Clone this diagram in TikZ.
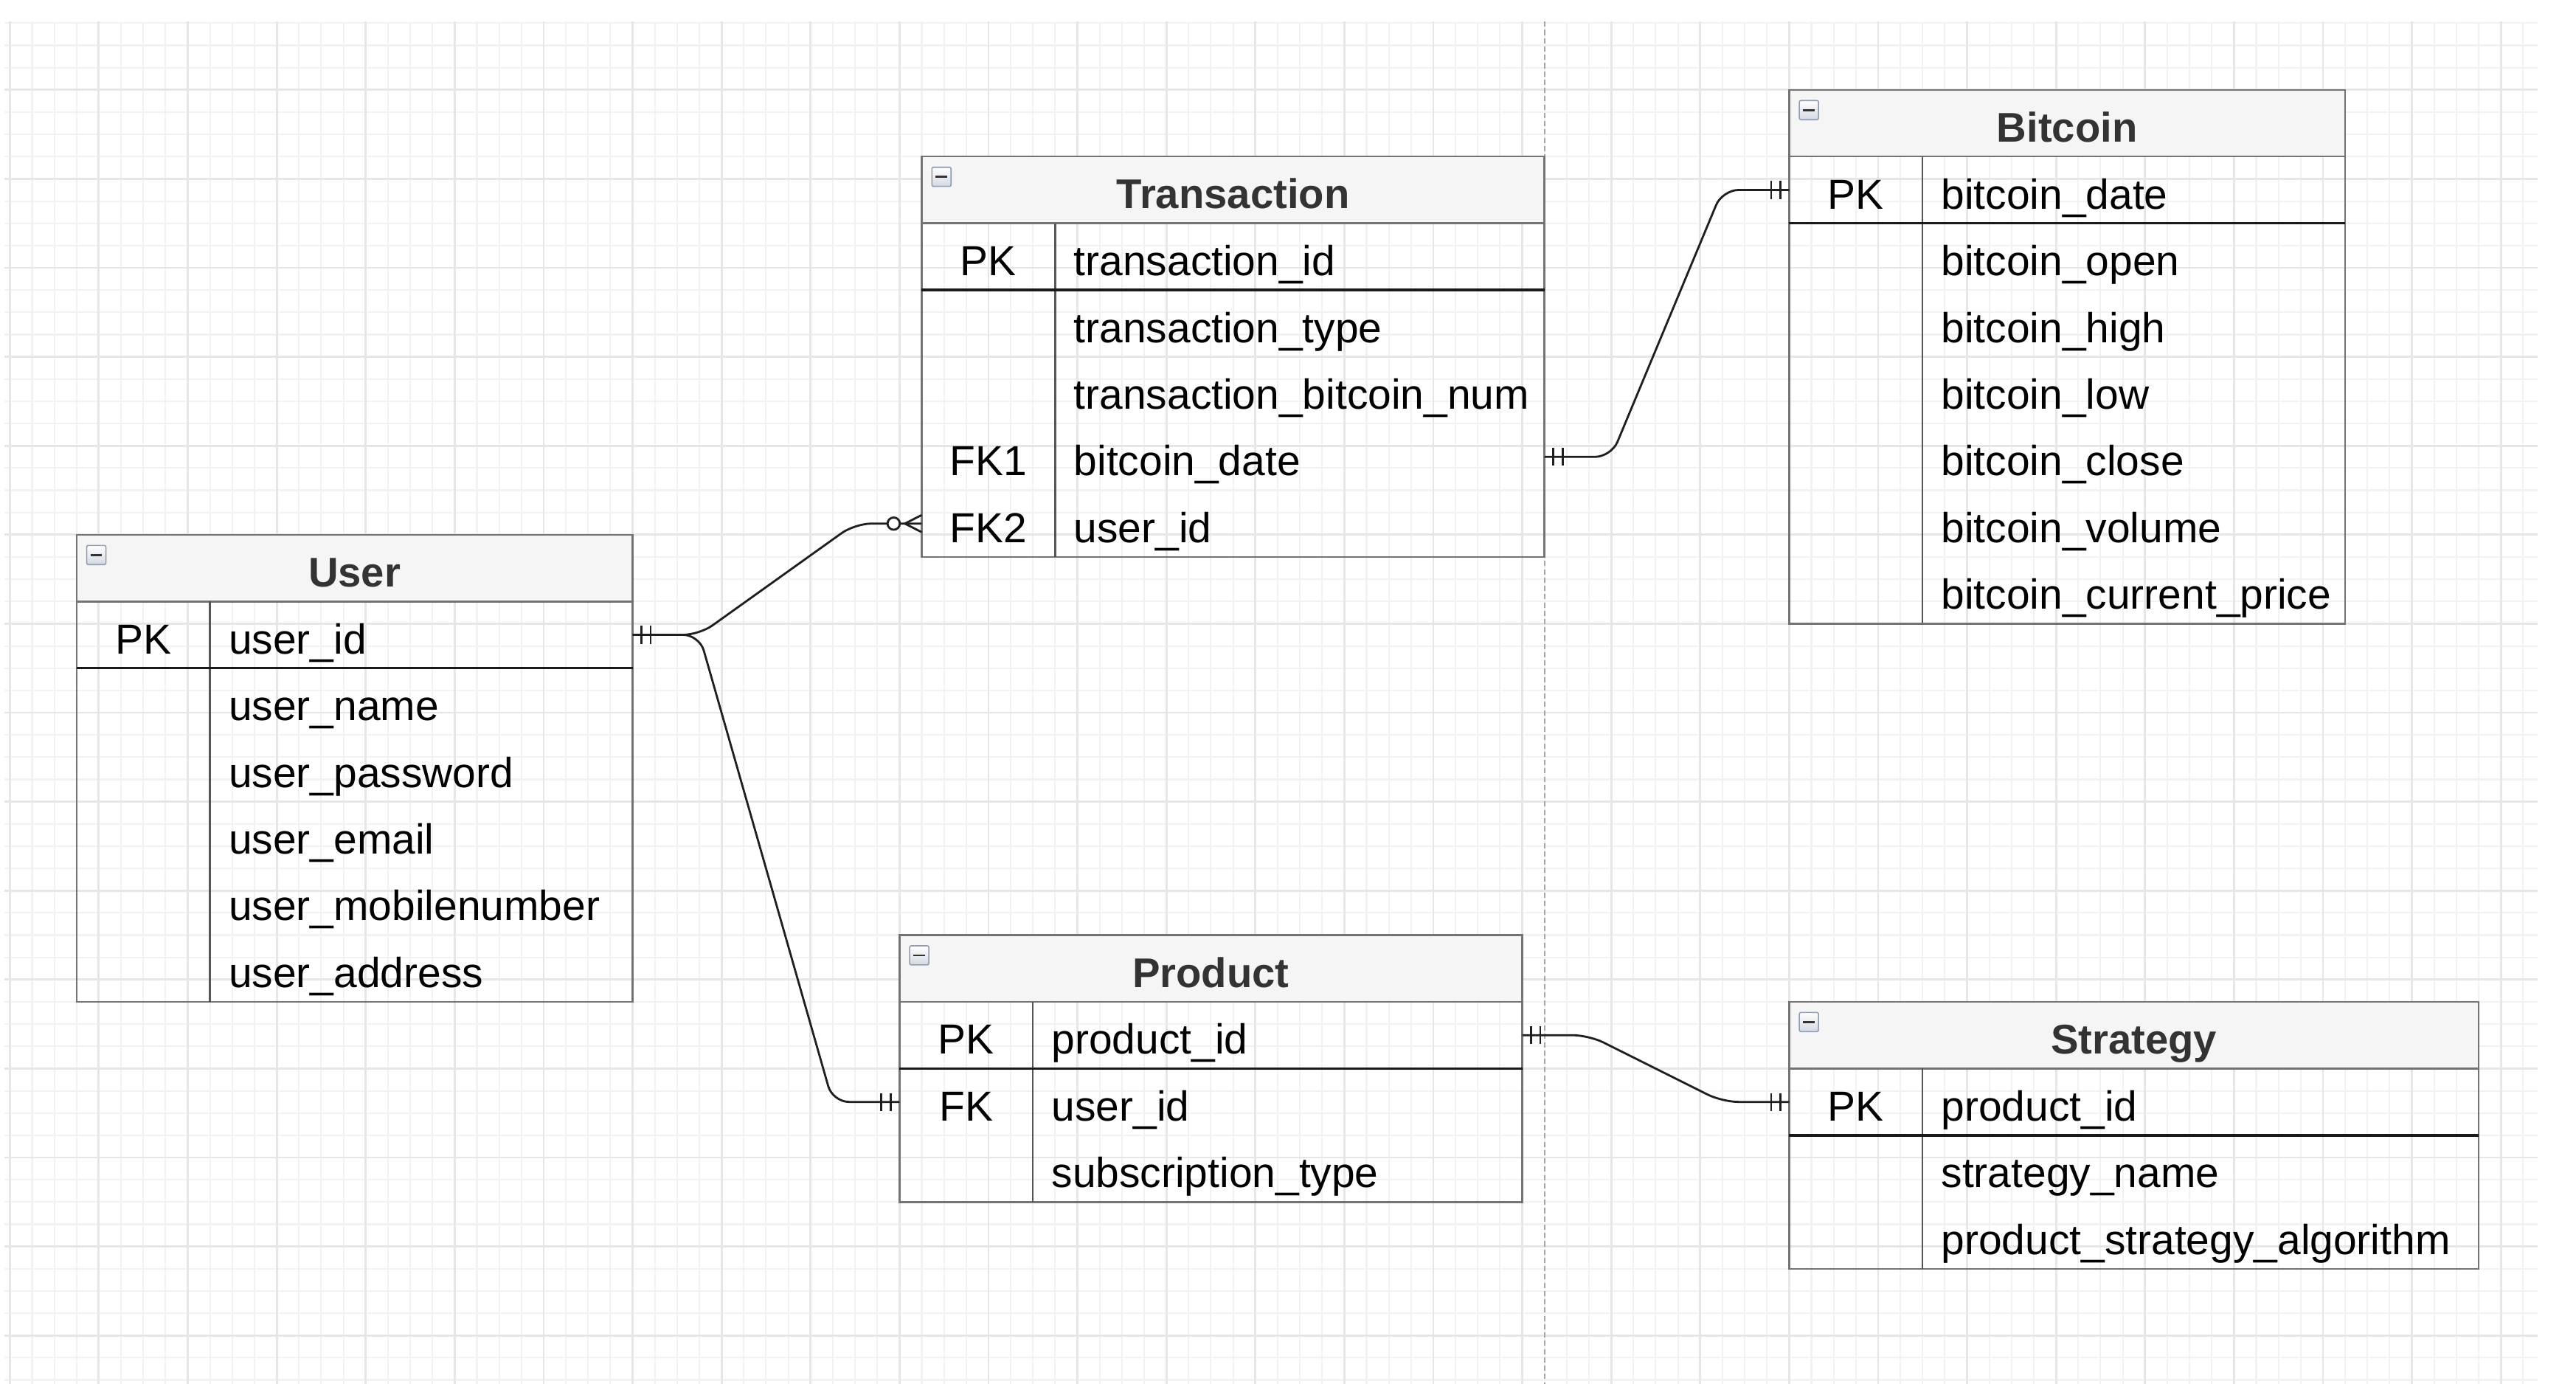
\documentclass[tikz,border=0pt]{standalone}
\usepackage{fontspec}
\setmainfont{Liberation Sans}
\usetikzlibrary{calc}
\definecolor{gridminor}{HTML}{F2F2F2}
\definecolor{gridmajor}{HTML}{E6E6E6}
\definecolor{headfill}{HTML}{F5F5F5}
\definecolor{bordergrey}{HTML}{737373}
\definecolor{divgrey}{HTML}{555555}
\definecolor{titlegrey}{HTML}{333333}
\definecolor{pagebreak}{HTML}{A6A6A6}
\definecolor{iconborder}{HTML}{8F9CB3}
\definecolor{iconfill}{HTML}{D3D9E3}
\definecolor{connline}{HTML}{1F1F1F}

\newcommand{\erfieldfont}{\fontsize{16.2pt}{19pt}\selectfont}
\newcommand{\ertitlefont}{\fontsize{16pt}{19pt}\selectfont\bfseries}

\tikzset{
  gminor/.style={draw=gridminor, line width=0.6pt},
  gmajor/.style={draw=gridmajor, line width=0.8pt},
  pagesplit/.style={draw=pagebreak, line width=0.6pt, dash pattern=on 2pt off 1.2pt},
  erhead/.style={fill=headfill},
  erborder/.style={draw=bordergrey, line width=0.7pt},
  erdiv/.style={draw=divgrey, line width=0.7pt},
  erpk/.style={draw=black!90, line width=1.0pt},
  ertitle/.style={anchor=base, inner sep=0pt, text=titlegrey, font=\ertitlefont},
  erkey/.style={anchor=base, inner sep=0pt, text=black, font=\erfieldfont},
  erfield/.style={anchor=base west, inner sep=0pt, text=black, font=\erfieldfont},
  errow/.style={rectangle, draw=none, inner sep=0pt, outer sep=0pt, minimum height=0.9045cm},
  ericon/.style={draw=iconborder, line width=0.45pt, rounded corners=0.6pt, top color=white, bottom color=iconfill},
  erminus/.style={draw=titlegrey, line width=0.8pt},
  conn/.style={draw=connline, line width=0.8pt},
  connpath/.style={conn, rounded corners=0.22cm},
}

% #1 name, #2 x, #3 y, #4 width, #5 number of rows, #6 title, #7 rows key/field
\newcommand{\ertable}[7]{%
  \begin{scope}[shift={(#2,#3)}]
    \fill[erhead] (0,0) rectangle (#4,30);
    \draw[erborder] (0,0) rectangle (#4,{30+30*#5});
    \draw[erborder] (0,30) -- (#4,30);
    \draw[erdiv] (60,30) -- (60,{30+30*#5});
    \draw[erpk] (0,60) -- (#4,60);
    \node[ertitle] (#1) at ({#4/2},23.4) {#6};
    \draw[ericon] (4.6,4.8) rectangle (13.2,13.4);
    \draw[erminus] (6.3,9.1) -- (11.5,9.1);
    \foreach \keyv/\fieldv [count=\i] in {#7} {
      \node[errow, minimum width={#4*0.03015cm}] (#1-\i) at ({#4/2},{15+30*\i}) {};
      \node[erkey] (#1-\i-k) at (30,{23.5+30*\i}) {\keyv};
      \node[erfield] (#1-\i-f) at (68.2,{23.5+30*\i}) {\fieldv};
    }
  \end{scope}
}

\newcommand{\mandone}[2]{%
  \draw[conn] ($(#1)+({#2*4},-4)$) -- ($(#1)+({#2*4},4)$);
  \draw[conn] ($(#1)+({#2*8.1},-4)$) -- ($(#1)+({#2*8.1},4)$);
}
\newcommand{\zeromany}[2]{%
  \draw[conn] ($(#1)+({#2*7.6},0)$) -- ($(#1)+(0,-3.85)$);
  \draw[conn] ($(#1)+({#2*7.6},0)$) -- ($(#1)+(0,3.85)$);
  \draw[conn, fill=white] ($(#1)+({#2*12.6},0)$) circle[radius=0.083cm];
}

\begin{document}
\begin{tikzpicture}[x=0.03015cm, y=-0.03015cm]
  \useasboundingbox (-4.411,-0.398) rectangle (1153.8,621.8);
  \fill[white] (-4.411,-0.398) rectangle (1153.8,621.8);

  % grid
  \foreach \gx in {0,10,...,1130} \draw[gminor] (\gx,9.3) -- (\gx,621.8);
  \foreach \gy in {10,20,...,620} \draw[gminor] (-2.4,\gy) -- (1136.5,\gy);
  \foreach \gx in {0,40,...,1120} \draw[gmajor] (\gx,9.3) -- (\gx,621.8);
  \foreach \gy in {40,80,...,600} \draw[gmajor] (-2.4,\gy) -- (1136.5,\gy);

  % page break
  \draw[pagesplit] (690,9.3) -- (690,621.8);

  % tables
  \ertable{U}{30}{240}{250}{6}{User}{PK/user\_id, {}/user\_name, {}/user\_password, {}/user\_email, {}/user\_mobilenumber, {}/user\_address}
  \ertable{T}{410}{70}{280}{5}{Transaction}{PK/transaction\_id, {}/transaction\_type, {}/transaction\_bitcoin\_num, FK1/bitcoin\_date, FK2/user\_id}
  \ertable{B}{800}{40}{250}{7}{Bitcoin}{PK/bitcoin\_date, {}/bitcoin\_open, {}/bitcoin\_high, {}/bitcoin\_low, {}/bitcoin\_close, {}/bitcoin\_volume, {}/bitcoin\_current\_price}
  \ertable{P}{400}{420}{280}{3}{Product}{PK/product\_id, FK/user\_id, {}/subscription\_type}
  \ertable{S}{800}{450}{310}{3}{Strategy}{PK/product\_id, {}/strategy\_name, {}/product\_strategy\_algorithm}

  % connectors
  \draw[connpath] (U-1.east) -- ++(30,0) -- ($(T-5.west)+(-30,0)$) -- (T-5.west);
  \draw[connpath] (U-1.east) -- ++(30,0) -- ($(P-2.west)+(-30,0)$) -- (P-2.west);
  \draw[connpath] (T-4.east) -- ++(30,0) -- ($(B-1.west)+(-30,0)$) -- (B-1.west);
  \draw[connpath] (P-1.east) -- ++(30,0) -- ($(S-1.west)+(-30,0)$) -- (S-1.west);

  % end markers
  \mandone{U-1.east}{1}
  \zeromany{T-5.west}{-1}
  \mandone{P-2.west}{-1}
  \mandone{T-4.east}{1}
  \mandone{B-1.west}{-1}
  \mandone{P-1.east}{1}
  \mandone{S-1.west}{-1}
\end{tikzpicture}
\end{document}
